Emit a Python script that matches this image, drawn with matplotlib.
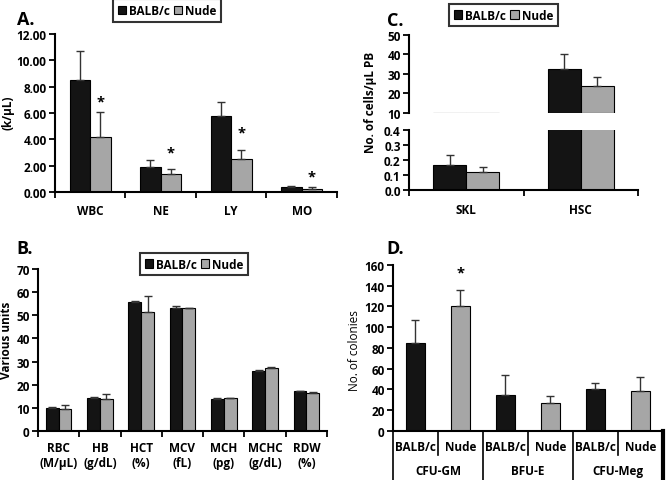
import numpy as np
import matplotlib
matplotlib.use('Agg')
import matplotlib.pyplot as plt
from matplotlib.patches import Patch
from matplotlib.lines import Line2D
import matplotlib.transforms as mtransforms

plt.rcParams['font.family'] = ['Open Sans', 'DejaVu Sans']

# Panel A
a_cats = ['WBC', 'NE', 'LY', 'MO']
a_balb = [8.5, 1.9, 5.75, 0.38]
a_balb_err = [2.2, 0.55, 1.1, 0.07]
a_nude = [4.2, 1.4, 2.5, 0.25]
a_nude_err = [1.9, 0.35, 0.7, 0.15]
a_star = [6.9, 3.0, 4.5, 1.2]

# Panel B
b_cats = ['RBC\n(M/μL)', 'HB\n(g/dL)', 'HCT\n(%)', 'MCV\n(fL)', 'MCH\n(pg)', 'MCHC\n(g/dL)', 'RDW\n(%)']
b_balb = [10.1, 14.4, 55.8, 53.3, 13.8, 26.1, 17.1]
b_balb_err = [0.4, 0.3, 0.3, 0.6, 0.3, 0.4, 0.3]
b_nude = [9.4, 14.0, 51.4, 53.0, 14.1, 27.4, 16.6]
b_nude_err = [2.0, 2.1, 7.0, 0.3, 0.2, 0.2, 0.4]

# Panel C
c_cats = ['SKL', 'HSC']
c_balb = [0.17, 32.5]
c_balb_err = [0.065, 7.5]
c_nude = [0.123, 23.7]
c_nude_err = [0.03, 4.8]

# Panel D
d_groups = ['CFU-GM', 'BFU-E', 'CFU-Meg']
d_strains = ['BALB/c', 'Nude']
d_balb = [84.5, 34.5, 40]
d_balb_err = [22, 19.5, 6]
d_nude = [120.5, 27, 38.5]
d_nude_err = [15.5, 6.5, 13.5]
d_star = 153

BALB = '#141414'
NUDE = '#a6a6a6'
ERR = '#333333'
BOLD = 'bold'
FS = 8.5

fig = plt.figure(figsize=(6.68, 4.81), dpi=100)


def style_axis(ax, left_only=False):
    for s in ['top', 'right']:
        ax.spines[s].set_visible(False)
    ax.spines['left'].set_linewidth(1.5)
    ax.spines['bottom'].set_linewidth(1.5)
    if left_only:
        ax.spines['bottom'].set_visible(False)
    ax.tick_params(axis='y', direction='out', length=4, width=1.3, labelsize=FS, pad=2)
    for lab in ax.get_yticklabels():
        lab.set_fontweight(BOLD)


def pair_bars(ax, balb, balb_err, nude, nude_err, w, bottom=0):
    x = np.arange(len(balb))
    hb = np.array(balb) - bottom
    hn = np.array(nude) - bottom
    ax.bar(x - w / 2, hb, w, bottom=bottom, color=BALB, edgecolor='black', linewidth=0.8)
    ax.bar(x + w / 2, hn, w, bottom=bottom, color=NUDE, edgecolor='black', linewidth=0.8)
    ax.errorbar(x - w / 2, balb, yerr=[np.zeros(len(x)), balb_err], fmt='none',
                ecolor=ERR, elinewidth=1.0, capsize=3, capthick=1.0)
    ax.errorbar(x + w / 2, nude, yerr=[np.zeros(len(x)), nude_err], fmt='none',
                ecolor=ERR, elinewidth=1.0, capsize=3, capthick=1.0)
    return x


def cat_axis(ax, x, labels, size=FS):
    ax.set_xlim(-0.5, len(x) - 0.5)
    ax.set_xticks(x)
    ax.set_xticklabels(labels, fontweight=BOLD, fontsize=size)
    ax.tick_params(axis='x', which='major', length=0, pad=9)
    ax.set_xticks(np.arange(len(x) + 1) - 0.5, minor=True)
    ax.tick_params(axis='x', which='minor', direction='out', length=4, width=1.3)


def add_legend(cx, cy):
    handles = [Patch(facecolor=BALB, edgecolor='black', linewidth=0.8),
               Patch(facecolor=NUDE, edgecolor='black', linewidth=0.8)]
    leg = fig.legend(handles, ['BALB/c', 'Nude'], loc='center', bbox_to_anchor=(cx, cy),
                     ncol=2, frameon=True, fancybox=False, handlelength=0.7, handleheight=0.7,
                     handletextpad=0.25, columnspacing=0.35, borderpad=0.4,
                     prop={'weight': 'bold', 'size': 8.5})
    leg.get_frame().set_edgecolor('black')
    leg.get_frame().set_linewidth(1.5)


# ---- A ----
axA = fig.add_axes([0.0823, 0.5988, 0.422, 0.3285])
x = pair_bars(axA, a_balb, a_balb_err, a_nude, a_nude_err, 0.29)
axA.set_ylim(0, 12)
axA.set_yticks(np.arange(0, 13, 2))
axA.set_yticklabels(['%.2f' % v for v in np.arange(0, 13, 2)])
cat_axis(axA, x, a_cats)
for xi, s in zip(x, a_star):
    axA.text(xi + 0.145, s, '*', ha='center', va='center', fontsize=10.5, fontweight=BOLD)
style_axis(axA)
fig.text(0.012, 0.765, '(k/μL)', rotation=90, ha='center', va='center', fontsize=FS, fontweight=BOLD)
fig.text(0.025, 0.958, 'A.', fontsize=13, fontweight=BOLD, ha='left', va='center')
add_legend(0.25, 0.976)

# ---- C ----
axCu = fig.add_axes([0.6123, 0.763, 0.3428, 0.1622])
axCl = fig.add_axes([0.6123, 0.6029, 0.3428, 0.1247])
x = pair_bars(axCu, c_balb, c_balb_err, c_nude, c_nude_err, 0.29, bottom=10)
axCu.set_ylim(10, 50)
axCu.set_yticks(np.arange(10, 51, 10))
axCu.set_xlim(-0.5, 1.5)
axCu.set_xticks([])
style_axis(axCu, left_only=True)
x = pair_bars(axCl, c_balb, c_balb_err, c_nude, c_nude_err, 0.29)
axCl.set_ylim(0, 0.4)
axCl.set_yticks(np.arange(0, 0.41, 0.1))
axCl.set_yticklabels(['%.1f' % v for v in np.arange(0, 0.41, 0.1)])
cat_axis(axCl, x, c_cats)
style_axis(axCl)
fig.text(0.555, 0.788, 'No. of cells/μL PB', rotation=90, ha='center', va='center', fontsize=FS, fontweight=BOLD)
fig.text(0.579, 0.956, 'C.', fontsize=13, fontweight=BOLD, ha='left', va='center')
add_legend(0.7537, 0.9667)

# ---- B ----
axB = fig.add_axes([0.0569, 0.1019, 0.4326, 0.3368])
x = pair_bars(axB, b_balb, b_balb_err, b_nude, b_nude_err, 0.31)
axB.set_ylim(0, 70)
axB.set_yticks(np.arange(0, 71, 10))
cat_axis(axB, x, b_cats)
axB.tick_params(axis='x', which='major', pad=7)
style_axis(axB)
fig.text(0.009, 0.293, 'Various units', rotation=90, ha='center', va='center', fontsize=FS, fontweight=BOLD)
fig.text(0.025, 0.482, 'B.', fontsize=13, fontweight=BOLD, ha='left', va='center')
add_legend(0.2904, 0.449)

# ---- D ----
axD = fig.add_axes([0.5883, 0.1019, 0.4042, 0.3451])
vals = []
errs = []
cols = []
for b, be, n, ne in zip(d_balb, d_balb_err, d_nude, d_nude_err):
    vals += [b, n]
    errs += [be, ne]
    cols += [BALB, NUDE]
xd = np.arange(len(vals))
axD.bar(xd, vals, 0.42, color=cols, edgecolor='black', linewidth=0.8)
axD.errorbar(xd, vals, yerr=[np.zeros(len(xd)), errs], fmt='none', ecolor=ERR,
             elinewidth=1.0, capsize=3, capthick=1.0)
axD.text(1, d_star, '*', ha='center', va='center', fontsize=10.5, fontweight=BOLD)
axD.set_ylim(0, 160)
axD.set_yticks(np.arange(0, 161, 20))
axD.set_xlim(-0.5, len(vals) - 0.5)
axD.set_xticks([])
style_axis(axD)
tr = mtransforms.blended_transform_factory(axD.transData, axD.transAxes)
for i, xi in enumerate(xd):
    axD.text(xi, -0.096, d_strains[i % 2], transform=tr, ha='center', va='center',
             fontsize=FS, fontweight=BOLD)
for g, name in enumerate(d_groups):
    axD.text(2 * g + 0.5, -0.241, name, transform=tr, ha='center', va='center',
             fontsize=FS, fontweight=BOLD)
for b in np.arange(len(vals) + 1) - 0.5:
    ylow = -0.3 if (b + 0.5) % 2 == 0 else -0.145
    lw = 3 if b == len(vals) - 0.5 else 1.2
    axD.add_line(Line2D([b, b], [0, ylow], transform=tr, color='black', linewidth=lw, clip_on=False))
fig.text(0.530, 0.272, 'No. of colonies', rotation=90, ha='center', va='center', fontsize=FS)
fig.text(0.579, 0.482, 'D.', fontsize=13, fontweight=BOLD, ha='left', va='center')

fig.savefig('out.png', dpi=100)
